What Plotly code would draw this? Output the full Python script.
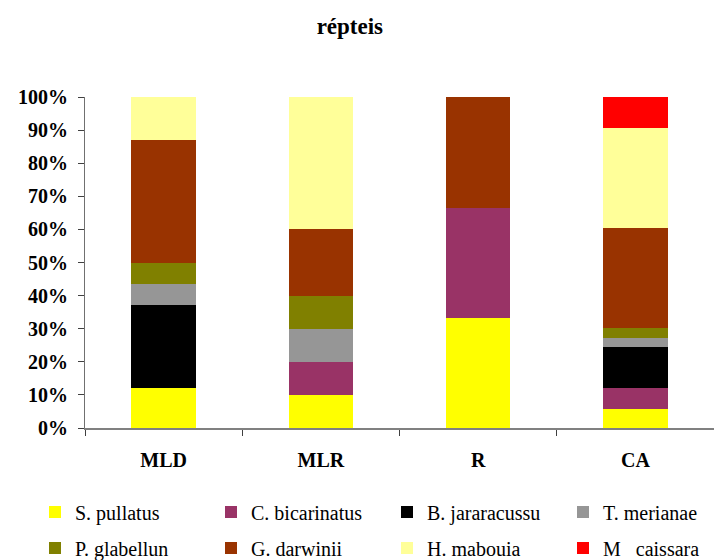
import plotly.graph_objects as go

# Sites on the x axis
sites = ["MLD", "MLR", "R", "CA"]

# Species (stack order, bottom to top) and their share (%) at each site
species = [
    "S. pullatus", "C. bicarinatus", "B. jararacussu", "T. merianae",
    "P. glabellun", "G. darwinii", "H. mabouia", "M\u00a0\u00a0\u00a0caissara",
]
s_pullatus = [12.0, 10.0, 33.3, 5.6]
c_bicarinatus = [0.0, 10.0, 33.3, 6.4]
b_jararacussu = [25.1, 0.0, 0.0, 12.4]
t_merianae = [6.3, 10.0, 0.0, 2.7]
p_glabellun = [6.3, 10.0, 0.0, 3.0]
g_darwinii = [37.2, 20.0, 33.4, 30.3]
h_mabouia = [13.1, 40.0, 0.0, 30.1]
m_caissara = [0.0, 0.0, 0.0, 9.5]

values = [s_pullatus, c_bicarinatus, b_jararacussu, t_merianae,
          p_glabellun, g_darwinii, h_mabouia, m_caissara]
colors = ["#FFFF00", "#993366", "#000000", "#969696",
          "#808000", "#993300", "#FFFF99", "#FF0000"]

y_ticks = list(range(0, 101, 10))
y_ticktext = [f"{v}%" for v in y_ticks]

SERIF = "Liberation Serif"
W, H = 714, 560
M_L, M_R, M_T, M_B = 85, 0, 97, 132
PLOT_W = W - M_L - M_R
PLOT_H = H - M_T - M_B


def paper_x(px):
    return (px - M_L) / PLOT_W


def paper_y(py):
    return (H - M_B - py) / PLOT_H


fig = go.Figure()
for i, (name, vals, col) in enumerate(zip(species, values, colors)):
    fig.add_trace(go.Bar(
        x=sites, y=vals, name=name,
        marker=dict(color=col, line=dict(width=0)),
        legend="legend" if i < 4 else "legend2",
        hovertemplate="%{x}: %{y}%<extra>" + name + "</extra>",
    ))

legend_common = dict(
    orientation="h",
    xanchor="left", yanchor="middle",
    font=dict(family=SERIF, size=20, color="#000000"),
    entrywidth=131, entrywidthmode="pixels",
    traceorder="normal",
    bgcolor="rgba(0,0,0,0)",
    borderwidth=0,
    itemclick=False, itemdoubleclick=False,
)

fig.update_layout(
    width=W, height=H,
    paper_bgcolor="white", plot_bgcolor="white",
    barmode="stack", bargap=0.59,
    margin=dict(l=M_L, r=M_R, t=M_T, b=M_B, pad=0, autoexpand=False),
    title=dict(
        text="<b>répteis</b>",
        x=0.49, xanchor="center", y=1 - 26 / H, yanchor="middle",
        font=dict(family=SERIF, size=23, color="#000000"),
    ),
    xaxis=dict(
        showline=True, linecolor="#808080", linewidth=2,
        ticks="outside", tickson="boundaries", ticklen=6,
        tickcolor="#404040", tickwidth=1,
        tickfont=dict(family=SERIF, size=20, color="#000000", weight="bold"),
        ticklabelstandoff=13,
        showgrid=False, zeroline=False,
    ),
    yaxis=dict(
        range=[0, 100],
        tickvals=y_ticks, ticktext=y_ticktext,
        showline=True, linecolor="#707070", linewidth=1,
        ticks="outside", ticklen=6, tickcolor="#404040", tickwidth=1,
        tickfont=dict(family=SERIF, size=20, color="#000000", weight="bold"),
        ticklabelstandoff=6,
        showgrid=False, zeroline=False,
    ),
    legend=dict(legend_common, x=paper_x(35), y=paper_y(512)),
    legend2=dict(legend_common, x=paper_x(35), y=paper_y(548)),
    showlegend=True,
)

fig.write_html("out.html")
